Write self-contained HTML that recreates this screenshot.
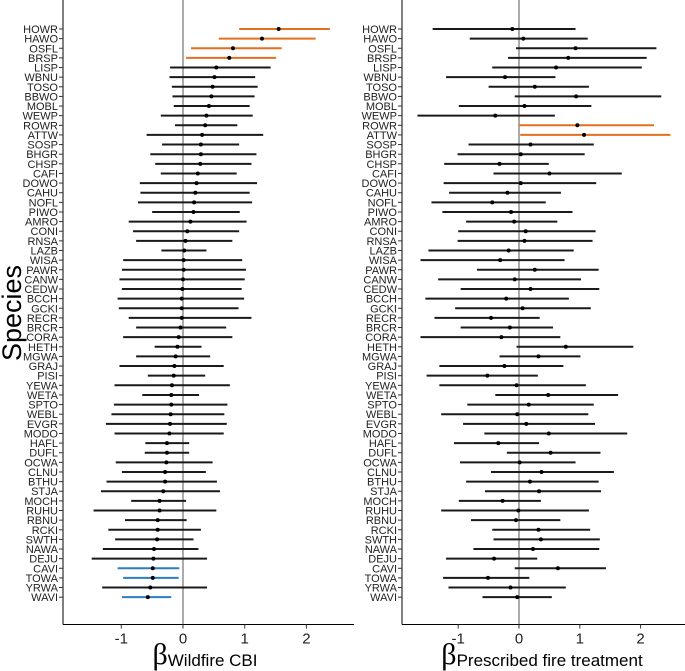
<!DOCTYPE html>
<html><head><meta charset="utf-8"><style>
html,body{margin:0;padding:0;background:#fff;}
svg{display:block;font-family:"Liberation Sans",sans-serif;}
</style></head><body>
<svg id="chart" width="685" height="671" viewBox="0 0 685 671" xmlns="http://www.w3.org/2000/svg">
<text x="0" y="0" transform="translate(21,313) rotate(-90)" text-anchor="middle" font-size="27" fill="#000">Species</text>
<text x="205" y="664" text-anchor="middle" fill="#000"><tspan font-family="Liberation Serif,serif" font-size="30">β</tspan><tspan font-size="17" dy="2">Wildfire CBI</tspan></text>
<text x="542" y="664" text-anchor="middle" fill="#000"><tspan font-family="Liberation Serif,serif" font-size="30">β</tspan><tspan font-size="17" dy="2">Prescribed fire treatment</tspan></text>
</svg>
<script>
const species = ["HOWR","HAWO","OSFL","BRSP","LISP","WBNU","TOSO","BBWO","MOBL","WEWP","ROWR","ATTW","SOSP","BHGR","CHSP","CAFI","DOWO","CAHU","NOFL","PIWO","AMRO","CONI","RNSA","LAZB","WISA","PAWR","CANW","CEDW","BCCH","GCKI","RECR","BRCR","CORA","HETH","MGWA","GRAJ","PISI","YEWA","WETA","SPTO","WEBL","EVGR","MODO","HAFL","DUFL","OCWA","CLNU","BTHU","STJA","MOCH","RUHU","RBNU","RCKI","SWTH","NAWA","DEJU","CAVI","TOWA","YRWA","WAVI"];
const xTicks = [-1,0,1,2];
const cbiEst = [1.55,1.28,0.81,0.75,0.54,0.51,0.48,0.46,0.42,0.38,0.36,0.31,0.29,0.29,0.28,0.24,0.22,0.20,0.18,0.17,0.12,0.07,0.04,0.02,0.01,0.01,0,-0.01,-0.02,-0.02,-0.02,-0.04,-0.07,-0.09,-0.12,-0.14,-0.15,-0.18,-0.19,-0.19,-0.2,-0.21,-0.22,-0.26,-0.26,-0.27,-0.29,-0.29,-0.32,-0.38,-0.38,-0.41,-0.41,-0.42,-0.47,-0.48,-0.49,-0.49,-0.53,-0.57];
const cbiLo = [0.91,0.58,0.13,0.05,-0.21,-0.22,-0.18,-0.17,-0.15,-0.36,-0.13,-0.59,-0.34,-0.53,-0.45,-0.36,-0.70,-0.69,-0.73,-0.50,-0.88,-0.81,-0.76,-0.35,-0.97,-0.99,-1.03,-0.99,-1.06,-1.04,-0.88,-0.76,-0.97,-0.46,-0.76,-1.03,-0.57,-1.11,-0.66,-1.12,-1.16,-1.25,-1.11,-0.61,-0.62,-1.09,-0.99,-1.24,-1.33,-0.84,-1.45,-0.94,-1.21,-1.10,-1.30,-1.48,-1.06,-0.97,-1.31,-0.99];
const cbiHi = [2.38,2.15,1.6,1.51,1.42,1.17,1.21,1.16,1.08,1.13,0.88,1.30,0.91,1.19,1.11,0.87,1.20,1.08,1.12,0.92,1.03,0.91,0.80,0.38,0.96,1.02,1.0,0.95,0.99,0.90,1.11,0.70,0.80,0.30,0.44,0.66,0.36,0.76,0.26,0.72,0.67,0.71,0.66,0.10,0.10,0.48,0.37,0.55,0.60,0.05,0.54,0.06,0.29,0.17,0.25,0.39,-0.06,-0.07,0.39,-0.19];
const rxEst = [-0.11,0.07,0.93,0.81,0.61,-0.23,0.26,0.94,0.09,-0.39,0.96,1.07,0.19,0.03,-0.32,0.50,0.03,-0.19,-0.44,-0.13,-0.08,0.11,0.09,-0.17,-0.31,0.26,-0.07,0.19,-0.21,0.06,-0.46,-0.15,-0.29,0.77,0.32,-0.24,-0.52,-0.04,0.48,0.16,-0.03,0.12,0.49,-0.34,0.52,0.01,0.37,0.18,0.33,-0.27,-0.01,-0.05,0.32,0.36,0.23,-0.41,0.64,-0.51,-0.14,-0.03];
const rxLo = [-1.42,-0.81,-0.05,-0.18,-0.44,-1.2,-0.50,-0.07,-0.99,-1.67,0.0,0.02,-0.83,-1.01,-1.23,-0.42,-1.24,-1.15,-1.44,-1.26,-0.87,-1.0,-1.01,-1.49,-1.62,-0.69,-1.33,-0.96,-1.54,-1.05,-1.39,-0.96,-1.62,-0.04,-0.32,-1.31,-1.52,-1.31,-0.39,-0.85,-1.28,-0.92,-0.57,-1.07,-0.20,-0.97,-0.46,-0.87,-0.56,-0.99,-1.28,-0.79,-0.44,-0.42,-0.75,-1.20,-0.07,-1.25,-1.16,-0.60];
const rxHi = [0.93,1.13,2.26,2.10,2.02,0.60,1.15,2.34,1.19,0.59,2.22,2.49,1.23,1.08,0.49,1.69,1.27,0.69,0.44,0.88,0.63,1.26,1.21,0.90,0.75,1.31,1.02,1.32,0.82,1.18,0.34,0.56,0.68,1.88,1.01,0.73,0.31,1.10,1.63,1.23,1.14,1.25,1.78,0.33,1.34,0.93,1.56,1.31,1.35,0.36,1.15,0.68,1.17,1.33,1.32,0.30,1.43,0.17,0.77,0.54];

const NS="http://www.w3.org/2000/svg";
const svg=document.getElementById('chart');
function mk(tag,attrs){const e=document.createElementNS(NS,tag);for(const k in attrs)e.setAttribute(k,attrs[k]);svg.appendChild(e);return e;}
const yOf=i=>29+i*9.63;
const panels=[
 {name:'wildfire',x0:63,x1:354,zero:183,unit:61.7,est:cbiEst,lo:cbiLo,hi:cbiHi},
 {name:'prescribed',x0:402,x1:685,zero:519,unit:60.8,est:rxEst,lo:rxLo,hi:rxHi}
];
const bottom=624.5;
panels.forEach(p=>{
  const xs=v=>p.zero+v*p.unit;
  let e=mk('line',{x1:xs(0),x2:xs(0),y1:0,y2:bottom,stroke:'#555','stroke-width':1});
  
  
  e=mk('line',{x1:p.x0,x2:p.x0,y1:0,y2:bottom,stroke:'#000','stroke-width':1});
  
  
  e=mk('line',{x1:p.x0,x2:p.x1,y1:bottom,y2:bottom,stroke:'#000','stroke-width':1});
  
  
  xTicks.forEach(t=>{
    let tk=mk('line',{x1:xs(t),x2:xs(t),y1:bottom,y2:bottom+4,stroke:'#333','stroke-width':1});
    
    
    let tl=mk('text',{x:xs(t),y:bottom+19,'text-anchor':'middle','font-size':15,fill:'#222'});
    tl.textContent=t<0?'-'+Math.abs(t):String(t);
    
    
  });
  species.forEach((s,i)=>{
    const y=yOf(i);
    let tk=mk('line',{x1:p.x0-4,x2:p.x0,y1:y,y2:y,stroke:'#333','stroke-width':1});
    
    
    let lb=mk('text',{x:p.x0-5,y:y+4,'text-anchor':'end','font-size':11,fill:'#222'});
    lb.textContent=s;
    
    
    let col='#1a1a1a';
    if(p.lo[i]>=0)col='#e3701f';
    else if(p.hi[i]<=0)col='#2a7fc1';
    let ln=mk('line',{x1:xs(p.lo[i]),x2:xs(p.hi[i]),y1:y,y2:y,stroke:col,'stroke-width':2});
    
    
    let pt=mk('circle',{cx:xs(p.est[i]),cy:y,r:2,fill:'#000'});
    
    
  });
});
</script>
</body></html>
